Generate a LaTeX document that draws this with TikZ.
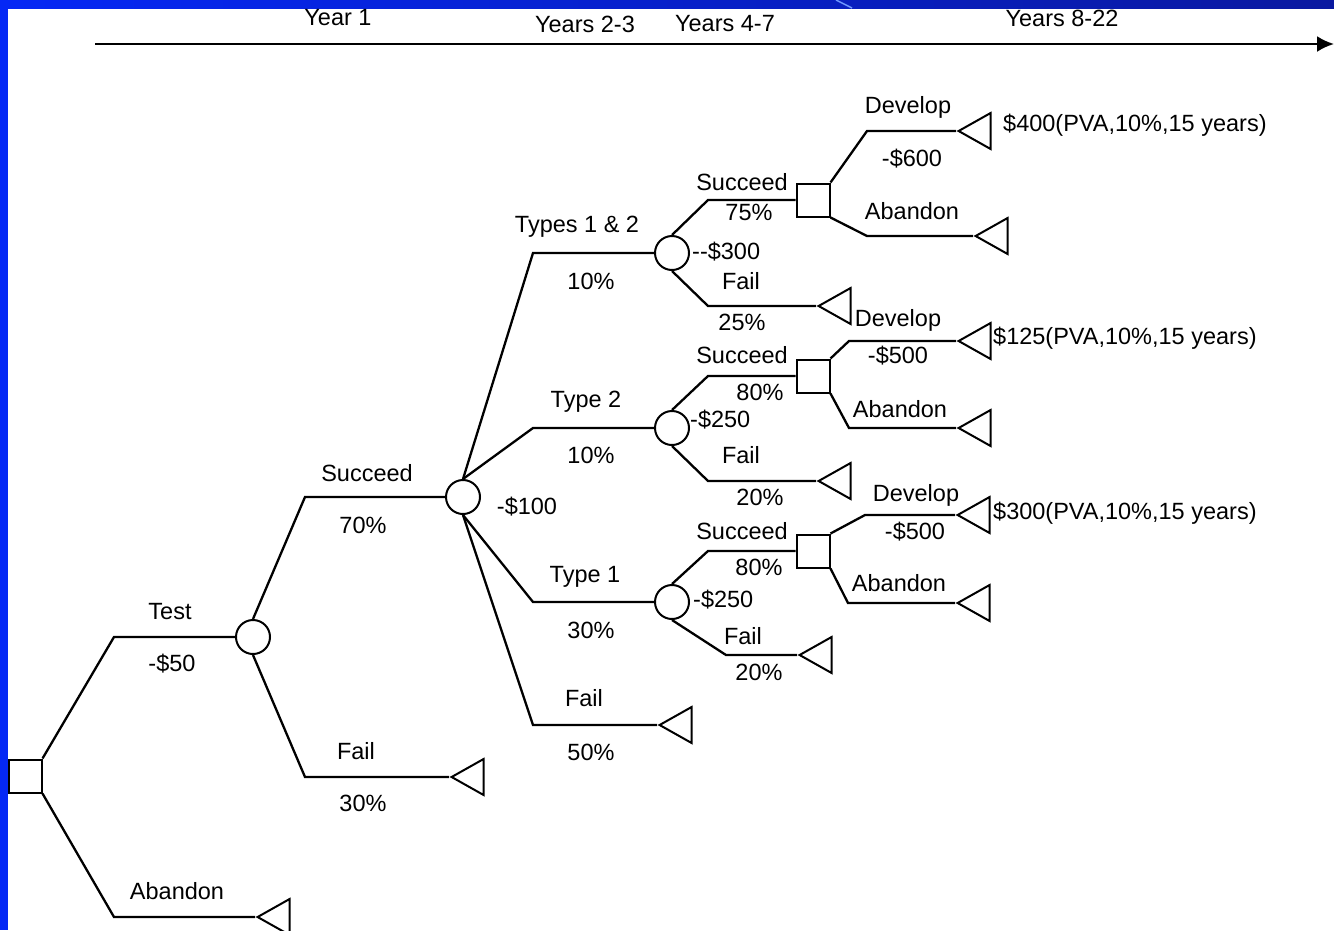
\documentclass[tikz,border=0pt]{standalone}
\usepackage{fontspec}
\setmainfont{Liberation Sans}
\usepackage{tikz}
\usetikzlibrary{shapes.geometric,arrows.meta}

\definecolor{frameblue}{RGB}{5,40,245}
\definecolor{framedark}{RGB}{10,25,160}
\definecolor{streakblue}{RGB}{110,150,255}

\begin{document}
\begin{tikzpicture}[
  chance/.style={circle, draw, line width=2pt, minimum size=34pt, inner sep=0pt},
  decide/.style={rectangle, draw, line width=2pt, minimum size=33pt, inner sep=0pt},
  payoff/.style={isosceles triangle, shape border rotate=180, isosceles triangle stretches,
    draw, line width=2pt, minimum width=36pt, minimum height=32pt, inner sep=0pt, anchor=apex},
  lbl/.style={inner sep=0pt, font=\fontsize{23.5}{28}\selectfont},
  branch/.style={line width=2.3pt}
]
\begin{scope}[x=1pt, y=-1pt]

\useasboundingbox (0,0) rectangle (1334,930);
\clip (0,0) rectangle (1334,930);

% slide frame
\shade[left color=frameblue, right color=framedark] (0,0) rectangle (1334,8);
\fill[frameblue] (0,0) rectangle (8,930);
\draw[streakblue, line width=1.5pt] (836,0) -- (852,8);

% time line
\coordinate (ax0) at (95,44);
\coordinate (ax1) at (1334,44);
\draw[line width=2.3pt, -{Latex[length=17pt, width=16pt]}] (ax0) -- (ax1);
\node[lbl] (yr1) at (338,18) {Year 1};
\node[lbl] (yr2) at (585,24) {Years 2-3};
\node[lbl] (yr4) at (725,24) {Years 4-7};
\node[lbl] (yr8) at (1062,18) {Years 8-22};

% decision and chance nodes
\node[decide] (d0) at (25,776) {};
\node[chance] (c1) at (253,637) {};
\node[chance] (c2) at (463,497) {};
\node[chance] (cA) at (672,253) {};
\node[chance] (cB) at (672,428) {};
\node[chance] (cC) at (672,602) {};
\node[decide] (dA) at (813,200) {};
\node[decide] (dB) at (813,376) {};
\node[decide] (dC) at (813,551) {};

% end points
\node[payoff] (tAb0) at (255,917) {};
\node[payoff] (tFail1) at (449,777) {};
\node[payoff] (tFail2) at (657,725) {};
\node[payoff] (tFailA) at (816,306) {};
\node[payoff] (tFailB) at (816,481) {};
\node[payoff] (tFailC) at (797,655) {};
\node[payoff] (tDevA) at (956,131) {};
\node[payoff] (tAbA) at (973,236) {};
\node[payoff] (tDevB) at (956,341) {};
\node[payoff] (tAbB) at (956,428) {};
\node[payoff] (tDevC) at (955,515) {};
\node[payoff] (tAbC) at (955,603) {};

% branches
\draw[branch] (d0.north east) -- (114,637) -- (c1);
\draw[branch] (d0.south east) -- (114,917) -- (tAb0);
\draw[branch] (c1.north) -- (305,497) -- (c2);
\draw[branch] (c1.south) -- (305,777) -- (tFail1);
\draw[branch] (c2.north) -- (533,253) -- (cA);
\draw[branch] (c2.north) -- (533,428) -- (cB);
\draw[branch] (c2.south) -- (533,602) -- (cC);
\draw[branch] (c2.south) -- (533,725) -- (tFail2);
\draw[branch] (cA.north) -- (708,200) -- (dA);
\draw[branch] (cA.south) -- (708,306) -- (tFailA);
\draw[branch] (cB.north) -- (708,376) -- (dB);
\draw[branch] (cB.south) -- (708,481) -- (tFailB);
\draw[branch] (cC.north) -- (708,551) -- (dC);
\draw[branch] (cC.south) -- (726,655) -- (tFailC);
\draw[branch] (dA.north east) -- (867,131) -- (tDevA);
\draw[branch] (dA.south east) -- (867,236) -- (tAbA);
\draw[branch] (dB.north east) -- (849,341) -- (tDevB);
\draw[branch] (dB.south east) -- (849,428) -- (tAbB);
\draw[branch] (dC.north east) -- (865,515) -- (tDevC);
\draw[branch] (dC.south east) -- (848,603) -- (tAbC);

% labels
\node[lbl] (lTest) at (170,612) {Test};
\node[lbl] (lTestCost) at (172,664) {-\$50};
\node[lbl] (lAb0) at (177,891) {Abandon};
\node[lbl] (lSucc1) at (367,473) {Succeed};
\node[lbl] (pSucc1) at (363,525) {70\%};
\node[lbl] (lFail1) at (356,751) {Fail};
\node[lbl] (pFail1) at (363,803) {30\%};
\node[lbl] (lCost2) at (527,507) {-\$100};
\node[lbl] (lT12) at (577,227) {Types 1 \& 2};
\node[lbl] (pT12) at (591,281) {10\%};
\node[lbl] (lT2) at (586,402) {Type 2};
\node[lbl] (pT2) at (591,455) {10\%};
\node[lbl] (lT1) at (585,577) {Type 1};
\node[lbl] (pT1) at (591,630) {30\%};
\node[lbl] (lFail2) at (584,698) {Fail};
\node[lbl] (pFail2) at (591,752) {50\%};

\node[lbl] (lSuccA) at (742,182) {Succeed};
\node[lbl] (pSuccA) at (749,212) {75\%};
\node[lbl, anchor=west] (lCostA) at (692,252) {-{}-\$300};
\node[lbl] (lFailA) at (741,281) {Fail};
\node[lbl] (pFailA) at (742,322) {25\%};
\node[lbl] (lDevA) at (908,107) {Develop};
\node[lbl] (lDevCostA) at (912,159) {-\$600};
\node[lbl] (lAbA) at (912,211) {Abandon};
\node[lbl, anchor=west] (vA) at (1003,125) {\$400(PVA,10\%,15 years)};

\node[lbl] (lSuccB) at (742,355) {Succeed};
\node[lbl] (pSuccB) at (760,392) {80\%};
\node[lbl, anchor=west] (lCostB) at (690,420) {-\$250};
\node[lbl] (lFailB) at (741,455) {Fail};
\node[lbl] (pFailB) at (760,497) {20\%};
\node[lbl] (lDevB) at (898,320) {Develop};
\node[lbl] (lDevCostB) at (898,356) {-\$500};
\node[lbl] (lAbB) at (900,409) {Abandon};
\node[lbl, anchor=west] (vB) at (993,338) {\$125(PVA,10\%,15 years)};

\node[lbl] (lSuccC) at (742,531) {Succeed};
\node[lbl] (pSuccC) at (759,567) {80\%};
\node[lbl, anchor=west] (lCostC) at (693,600) {-\$250};
\node[lbl] (lFailC) at (743,636) {Fail};
\node[lbl] (pFailC) at (759,672) {20\%};
\node[lbl] (lDevC) at (916,495) {Develop};
\node[lbl] (lDevCostC) at (915,532) {-\$500};
\node[lbl] (lAbC) at (899,583) {Abandon};
\node[lbl, anchor=west] (vC) at (993,513) {\$300(PVA,10\%,15 years)};

\end{scope}
\end{tikzpicture}
\end{document}
